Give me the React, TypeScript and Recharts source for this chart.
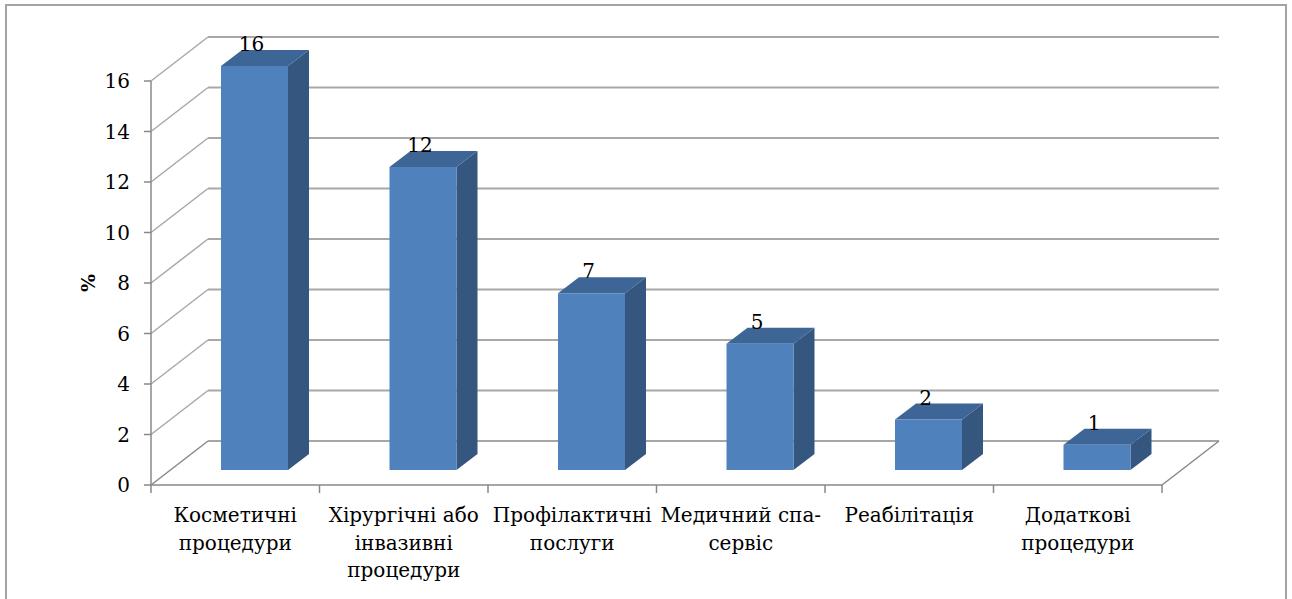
import { BarChart, Bar, XAxis, YAxis, CartesianGrid, LabelList } from 'recharts';

// data
const categories = [
  'Косметичні\nпроцедури',
  'Хірургічні або\nінвазивні\nпроцедури',
  'Профілактичні\nпослуги',
  'Медичний спа-\nсервіс',
  'Реабілітація',
  'Додаткові\nпроцедури',
];
const values = [16, 12, 7, 5, 2, 1];
const yTicks = [0, 2, 4, 6, 8, 10, 12, 14, 16];

const data = categories.map((name, i) => ({ name, value: values[i] }));

// only DejaVu Serif resolves to a serif face here
const SERIF = "'DejaVu Serif', serif";
const FONT_SIZE = 20;
const GRID = '#a8a8a8';
const AXIS = '#888888';
const FRONT = '#4f81bd';
const TOP = '#3d6595';
const SIDE = '#34567f';

// fake 3d depth
const WALL_DX = 57;
const WALL_DY = -44;
const BAR_OFF_X = 19;
const BAR_OFF_Y = -15;
const BAR_DX = 21;
const BAR_DY = -16;

function GridLine(props: any) {
  const { x1, y1, x2, x, y, width, height, index } = props;
  const isFloor = Math.abs(y1 - (y + height)) < 1;
  const bx = x1 + WALL_DX;
  const by = y1 + WALL_DY;
  const n = categories.length;
  return (
    <g key={`grid-${index}`}>
      <line x1={x1} y1={y1} x2={bx} y2={by} stroke={isFloor ? AXIS : GRID} strokeWidth={1.5} />
      <line x1={bx} y1={by} x2={x2 + WALL_DX} y2={by} stroke={isFloor ? AXIS : GRID} strokeWidth={isFloor ? 1.5 : 2} />
      {isFloor && (
        <line x1={x2} y1={y1} x2={x2 + WALL_DX} y2={by} stroke={AXIS} strokeWidth={1.5} />
      )}
      {isFloor &&
        Array.from({ length: n + 1 }, (_, i) => (
          <line
            key={i}
            x1={x + (width * i) / n}
            y1={y1}
            x2={x + (width * i) / n}
            y2={y1 + 8}
            stroke={AXIS}
            strokeWidth={1.5}
          />
        ))}
    </g>
  );
}

function Bar3D(props: any) {
  const { x, y, width, height } = props;
  const fx = x + BAR_OFF_X;
  const fy = y + BAR_OFF_Y;
  const side = `${fx + width},${fy} ${fx + width + BAR_DX},${fy + BAR_DY} ${fx + width + BAR_DX},${fy + height + BAR_DY} ${fx + width},${fy + height}`;
  const top = `${fx},${fy} ${fx + BAR_DX},${fy + BAR_DY} ${fx + width + BAR_DX},${fy + BAR_DY} ${fx + width},${fy}`;
  return (
    <g>
      <polygon points={side} fill={SIDE} />
      <polygon points={top} fill={TOP} />
      <rect x={fx} y={fy} width={width} height={height} fill={FRONT} />
    </g>
  );
}

function TopLabel(props: any) {
  const vb = props.viewBox || {};
  const x = props.x ?? vb.x;
  const y = props.y ?? vb.y;
  const width = props.width ?? vb.width;
  return (
    <text
      x={x + BAR_OFF_X + width / 2 - 3}
      y={y + BAR_OFF_Y - 15}
      textAnchor="middle"
      fontSize={FONT_SIZE}
      fontFamily={SERIF}
      fill="#000"
    >
      {props.value}
    </text>
  );
}

function CategoryTick(props: any) {
  const { x, y, payload } = props;
  const lines = String(payload.value).split('\n');
  return (
    <text x={x} y={y + 29} textAnchor="middle" fontSize={FONT_SIZE} fontFamily={SERIF} fill="#000">
      {lines.map((l, i) => (
        <tspan key={i} x={x} dy={i === 0 ? 0 : 27.5}>
          {l}
        </tspan>
      ))}
    </text>
  );
}

function PercentLabel(props: any) {
  const vb = props.viewBox;
  const cx = vb.x - 3;
  const cy = vb.y + vb.height / 2;
  return (
    <text
      x={cx}
      y={cy}
      transform={`rotate(-90 ${cx} ${cy})`}
      textAnchor="middle"
      dominantBaseline="central"
      fontSize={19}
      fontWeight="bold"
      fontFamily={SERIF}
      fill="#000"
    >
      %
    </text>
  );
}

export default function App() {
  return (
    <div
      style={{
        position: 'absolute',
        left: 0,
        top: 0,
        width: 1292,
        height: 599,
        overflow: 'hidden',
        background: '#fff',
      }}
    >
      <div
        style={{
          position: 'absolute',
          left: 5,
          top: 4,
          width: 1282,
          height: 640,
          boxSizing: 'border-box',
          border: '2px solid #a3a3a3',
        }}
      />
      <div style={{ position: 'absolute', left: 0, top: 0 }}>
        <BarChart
          width={1292}
          height={599}
          data={data}
          margin={{ top: 81, right: 130, bottom: 14, left: 91 }}
          barSize={67}
        >
          <CartesianGrid vertical={false} horizontal={GridLine} />
          <XAxis
            dataKey="name"
            interval={0}
            height={100}
            tickLine={false}
            tickSize={6}
            tickMargin={2}
            axisLine={{ stroke: AXIS, strokeWidth: 1.5 }}
            tick={<CategoryTick />}
          />
          <YAxis
            domain={[0, 16]}
            ticks={yTicks}
            width={60}
            tickSize={7}
            tickMargin={14}
            axisLine={{ stroke: AXIS, strokeWidth: 1.5 }}
            tickLine={{ stroke: AXIS, strokeWidth: 1.5 }}
            tick={{ fontSize: FONT_SIZE, fill: '#000', fontFamily: SERIF }}
            label={{ value: '%', content: PercentLabel }}
          />
          <Bar dataKey="value" shape={Bar3D} isAnimationActive={false}>
            <LabelList dataKey="value" content={TopLabel} />
          </Bar>
        </BarChart>
      </div>
    </div>
  );
}
